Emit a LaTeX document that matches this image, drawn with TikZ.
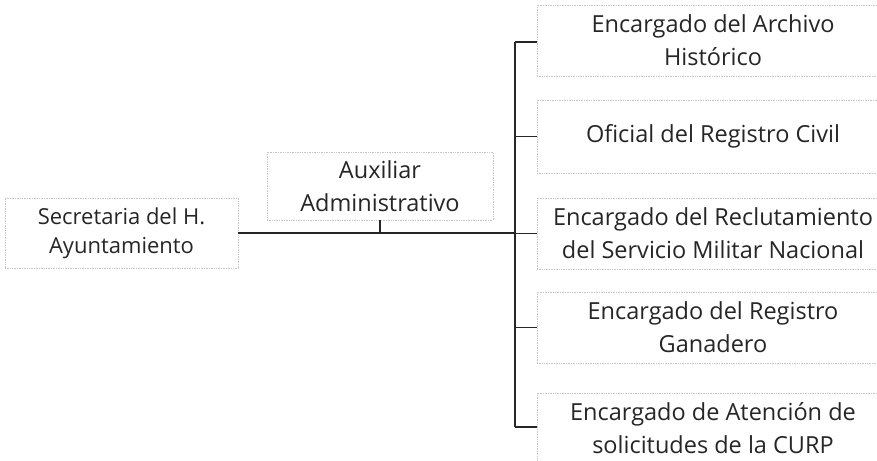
\documentclass[tikz,border=0pt]{standalone}
\usepackage{fontspec}
\setmainfont{Open Sans}
\begin{document}
\begin{tikzpicture}[x=1pt,y=-1pt,
  box/.style={draw=gray!45, densely dotted, line width=0.7pt, align=center, inner sep=0pt,
    font=\fontsize{23.5}{33}\selectfont, text=black!85},
  conn/.style={line width=1.8pt, black!85}]
\useasboundingbox (0,0) rectangle (877,460);
\node[box, minimum width=233, minimum height=70, font=\fontsize{22}{29}\selectfont] (sec) at (121.5,233) {Secretaria del H.\\Ayuntamiento};
\node[box, minimum width=226, minimum height=68] (aux) at (380,186) {Auxiliar\\Administrativo};
\node[box, minimum width=352, minimum height=71] (b1) at (713,40.5) {Encargado del Archivo\\Histórico};
\node[box, minimum width=352, minimum height=73] (b2) at (713,136.5) {Oficial del Registro Civil};
\node[box, minimum width=352, minimum height=71] (b3) at (713,233.5) {Encargado del Reclutamiento\\del Servicio Militar Nacional};
\node[box, minimum width=352, minimum height=71] (b4) at (713,327.5) {Encargado del Registro\\Ganadero};
\node[box, minimum width=352, minimum height=71] (b5) at (713,428.5) {Encargado de Atención de\\solicitudes de la CURP};
\coordinate (bt) at (515,42);
\coordinate (bb) at (515,427);
\draw[conn] (bt) -- (bb);
\draw[conn] (sec.east) -- (sec.east -| bt);
\draw[conn] (aux.south) -- (aux.south |- sec.east);
\draw[conn] (bt) -- (b1.west |- bt);
\draw[conn] (b2.west -| bt) -- (b2.west);
\draw[conn] (b3.west -| bt) -- (b3.west);
\draw[conn] (b4.west -| bt) -- (b4.west);
\draw[conn] (bb) -- (b5.west |- bb);
\end{tikzpicture}
\end{document}
